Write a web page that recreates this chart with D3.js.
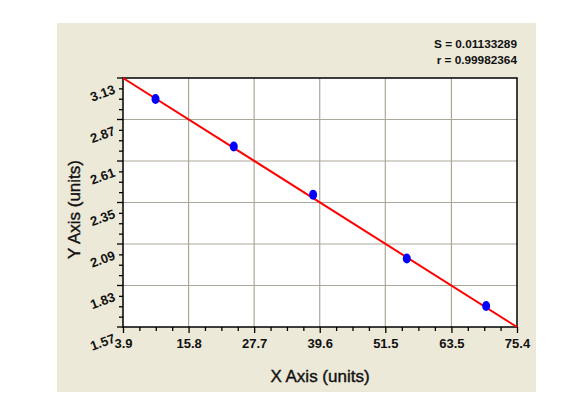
<!DOCTYPE html>
<html>
<head>
<meta charset="utf-8">
<script src="https://cdn.jsdelivr.net/npm/d3@7"></script>
<style>
  html, body { margin: 0; padding: 0; background: #fff; }
  svg text { font-family: "Liberation Sans", Arial, sans-serif; fill: #111; }
</style>
</head>
<body>
<svg id="chart" width="585" height="406"></svg>
<script>
// data
const xTicks = [3.9, 15.8, 27.7, 39.6, 51.5, 63.5, 75.4];
const yTicks = [1.57, 1.83, 2.09, 2.35, 2.61, 2.87, 3.13];
const xVals = [9.8, 24.0, 38.4, 55.4, 69.8];
const yVals = [2.998, 2.701, 2.398, 1.999, 1.702];
const fitLine = [[3.9, 3.13], [75.4, 1.57]];
const statLines = ["S = 0.01133289", "r = 0.99982364"];

(function () {
    const svg = d3.select("#chart");
    const margin = { top: 78, right: 68, bottom: 79, left: 123 };
    const width = 585 - margin.left - margin.right;
    const height = 406 - margin.top - margin.bottom;

    // beige panel behind everything
    svg.append("rect")
        .attr("x", 57).attr("y", 23)
        .attr("width", 479).attr("height", 369)
        .attr("fill", "#ece9d8");

    const g = svg.append("g").attr("transform", `translate(${margin.left},${margin.top})`);

    const x = d3.scaleLinear().domain([3.9, 75.4]).range([0, width]);
    const y = d3.scaleLinear().domain([1.57, 3.13]).range([height, 0]);

    g.append("rect")
        .attr("width", width).attr("height", height)
        .attr("fill", "#fff");

    // === Grid ===
    g.append("g").selectAll("line").data(xTicks.slice(1, -1)).join("line")
        .attr("x1", d => x(d)).attr("x2", d => x(d))
        .attr("y1", 0).attr("y2", height)
        .attr("stroke", "#aca899").attr("stroke-width", 1.2);
    g.append("g").selectAll("line").data(yTicks.slice(1, -1)).join("line")
        .attr("y1", d => y(d)).attr("y2", d => y(d))
        .attr("x1", 0).attr("x2", width)
        .attr("stroke", "#aca899").attr("stroke-width", 1.2);

    // minor ticks: 4 subdivisions per major step
    const minorX = [], minorY = [];
    for (let i = 0; i < xTicks.length - 1; i++)
        for (let k = 1; k < 4; k++) minorX.push(xTicks[i] + (xTicks[i + 1] - xTicks[i]) * k / 4);
    for (let i = 0; i < yTicks.length - 1; i++)
        for (let k = 1; k < 4; k++) minorY.push(yTicks[i] + (yTicks[i + 1] - yTicks[i]) * k / 4);

    // === Axes ===
    const xAxis = g.append("g").attr("transform", `translate(0,${height})`);
    xAxis.call(d3.axisBottom(x).tickValues(minorX).tickSize(4).tickFormat(""));
    xAxis.append("g").call(d3.axisBottom(x).tickValues(xTicks).tickSize(6).tickPadding(6).tickFormat(d3.format(".1f")));
    xAxis.selectAll(".domain").remove();
    xAxis.selectAll("line").attr("stroke", "#000").attr("stroke-width", 1.3);
    xAxis.selectAll("text")
        .attr("fill", "#111")
        .style("font-size", "13px").style("font-weight", "bold");

    const yAxis = g.append("g");
    yAxis.call(d3.axisLeft(y).tickValues(minorY).tickSize(4).tickFormat(""));
    yAxis.selectAll(".domain").remove();
    yAxis.selectAll("line").attr("stroke", "#000").attr("stroke-width", 1.3);
    const yMaj = yAxis.append("g").selectAll("g").data(yTicks).join("g")
        .attr("transform", d => `translate(0,${y(d)})`);
    yMaj.append("line").attr("x1", -6).attr("x2", 0).attr("stroke", "#000").attr("stroke-width", 1.3);
    yMaj.append("text")
        .attr("transform", "translate(-7,15) rotate(-20)")
        .attr("text-anchor", "end")
        .style("font-size", "13px").style("font-weight", "bold")
        .text(d => d.toFixed(2));

    // plot frame
    g.append("rect")
        .attr("width", width).attr("height", height)
        .attr("fill", "none").attr("stroke", "#000").attr("stroke-width", 1.5);

    // fit line
    g.append("path")
        .datum(fitLine)
        .attr("d", d3.line().x(d => x(d[0])).y(d => y(d[1])))
        .attr("fill", "none").attr("stroke", "#ff0000").attr("stroke-width", 2);

    // points
    g.append("g").selectAll("ellipse").data(xVals).join("ellipse")
        .attr("cx", d => x(d))
        .attr("cy", (d, i) => y(yVals[i]))
        .attr("rx", 4).attr("ry", 5)
        .attr("fill", "#0000ff");

    // labels
    svg.append("text")
        .attr("x", margin.left + width / 2).attr("y", 382)
        .attr("text-anchor", "middle")
        .style("font-size", "17px")
        .style("stroke", "#111").style("stroke-width", 0.4)
        .text("X Axis (units)");
    svg.append("text")
        .attr("transform", `translate(80,${margin.top + height / 2 + 7}) rotate(-90)`)
        .attr("text-anchor", "middle")
        .style("font-size", "17px")
        .style("stroke", "#111").style("stroke-width", 0.4)
        .text("Y Axis (units)");

    svg.append("g").selectAll("text").data(statLines).join("text")
        .attr("x", 517).attr("y", (d, i) => 48 + i * 15.5)
        .attr("text-anchor", "end")
        .style("font-size", "11.8px").style("font-weight", "bold")
        .text(d => d);
})();
</script>
</body>
</html>
